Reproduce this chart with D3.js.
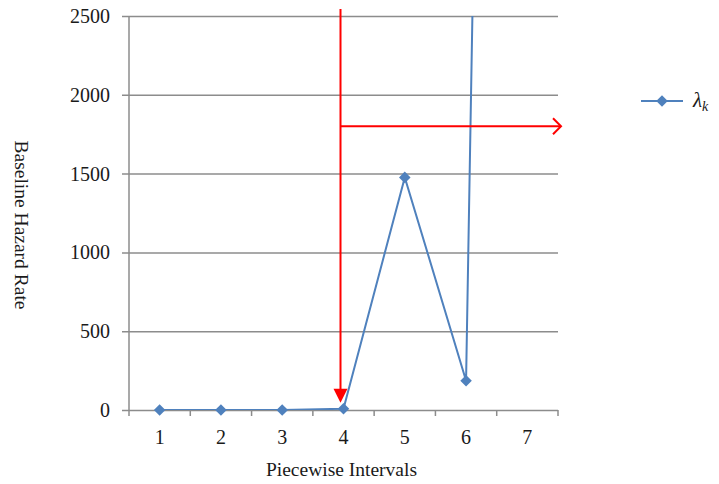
<!DOCTYPE html>
<html>
<head>
<meta charset="utf-8">
<script src="https://cdn.jsdelivr.net/npm/d3@7"></script>
<style>
  body { margin: 0; background: #fff; }
  svg { display: block; }
</style>
</head>
<body>
<svg id="chart" width="719" height="484"></svg>
<script>
// Piecewise intervals and estimated baseline hazard per interval
const intervals = [1, 2, 3, 4, 5, 6, 7];
const hazard = [0, 0, 0, 8, 1476, 186, 22600];
const yTicks = [0, 500, 1000, 1500, 2000, 2500];
const seriesName = "λ";
const seriesSub = "k";

const FONT = "'Liberation Serif', 'Times New Roman', serif";
const svg = d3.select("#chart");
const margin = { left: 129, right: 161, top: 16, bottom: 74 };
const W = 719, H = 484;
const plotW = W - margin.left - margin.right;
const plotH = H - margin.top - margin.bottom;

const x = d3.scaleBand().domain(intervals).range([0, plotW]).padding(0);
const y = d3.scaleLinear().domain([0, 2500]).range([plotH, 0]);

const g = svg.append("g").attr("transform", `translate(${margin.left},${margin.top})`);

const gridColor = "#8c8c8c";
const textColor = "#1a1a1a";

// horizontal gridlines with left tick marks
const yAxis = d3.axisLeft(y).tickValues(yTicks).tickSize(-plotW).tickSizeOuter(0).tickPadding(19)
  .tickFormat(d3.format("d"));
const yg = g.append("g").call(yAxis).attr("font-family", FONT).attr("font-size", 20);
yg.select(".domain").remove();
yg.selectAll(".tick line").attr("stroke", gridColor).attr("stroke-width", 1.5).attr("x1", -7);
yg.selectAll(".tick text").attr("fill", textColor);

// vertical axis line
g.append("line").attr("x1", 0).attr("x2", 0).attr("y1", 0).attr("y2", plotH + 6)
  .attr("stroke", gridColor).attr("stroke-width", 1.5);

// x axis: labels at band centers, ticks at band edges
const xg = g.append("g").attr("transform", `translate(0,${plotH})`)
  .call(d3.axisBottom(x).tickSize(0).tickPadding(20))
  .attr("font-family", FONT).attr("font-size", 20);
xg.select(".domain").remove();
xg.selectAll(".tick text").attr("fill", textColor);
intervals.forEach(d => {
  const xe = x(d) + x.bandwidth();
  g.append("line").attr("x1", xe).attr("x2", xe).attr("y1", plotH).attr("y2", plotH + 6)
    .attr("stroke", gridColor).attr("stroke-width", 1.5);
});

// series line, clipped to plot area
svg.append("defs").append("clipPath").attr("id", "plotClip")
  .append("rect").attr("x", 0).attr("y", 0).attr("width", plotW).attr("height", plotH);

const blue = "#4f81bd";
const pts = intervals.map((d, i) => ({ k: d, v: hazard[i] }));
const line = d3.line().x(d => x(d.k) + x.bandwidth() / 2).y(d => y(d.v));
const series = g.append("g").attr("clip-path", "url(#plotClip)");
series.append("path").datum(pts).attr("d", line)
  .attr("fill", "none").attr("stroke", blue).attr("stroke-width", 2);

const diamond = d3.symbol().type(d3.symbolDiamond2).size(85);
g.append("g").selectAll("path").data(pts.filter(d => d.v <= 2500)).join("path")
  .attr("d", diamond)
  .attr("transform", d => `translate(${x(d.k) + x.bandwidth() / 2},${y(d.v)})`)
  .attr("fill", blue);

// red annotation arrows
const red = "#ff0000";
const ax = x(4) + x.bandwidth() / 2 - 3;
const arrowTop = y(2500) - 7;
const arrowTip = y(hazard[3]) - 6;
g.append("line").attr("x1", ax).attr("x2", ax).attr("y1", arrowTop).attr("y2", arrowTip - 12)
  .attr("stroke", red).attr("stroke-width", 2);
g.append("path")
  .attr("d", `M${ax - 7},${arrowTip - 14} L${ax + 7},${arrowTip - 14} L${ax},${arrowTip} Z`)
  .attr("fill", red);

const hy = y(1800);
const hx2 = plotW + 3;
g.append("line").attr("x1", ax).attr("x2", hx2).attr("y1", hy).attr("y2", hy)
  .attr("stroke", red).attr("stroke-width", 2);
g.append("path")
  .attr("d", `M${hx2 - 8},${hy - 8} L${hx2},${hy} L${hx2 - 8},${hy + 8}`)
  .attr("fill", "none").attr("stroke", red).attr("stroke-width", 2);

// axis titles
svg.append("text").attr("x", margin.left + plotW / 2 - 2).attr("y", 476)
  .attr("text-anchor", "middle").attr("font-family", FONT).attr("font-size", 19.5)
  .attr("fill", textColor).text("Piecewise Intervals");
svg.append("text").attr("transform", "translate(15,225) rotate(90)")
  .attr("text-anchor", "middle").attr("font-family", FONT).attr("font-size", 19.5)
  .attr("fill", textColor).text("Baseline Hazard Rate");

// legend
const lg = svg.append("g").attr("transform", "translate(641,101)");
lg.append("line").attr("x1", 0).attr("x2", 42).attr("y1", 0).attr("y2", 0)
  .attr("stroke", blue).attr("stroke-width", 2);
lg.append("path").attr("d", diamond).attr("transform", "translate(21,0)").attr("fill", blue);
const lt = lg.append("text").attr("x", 52).attr("y", 6).attr("font-size", 21)
  .attr("font-family", FONT).attr("font-style", "italic").attr("fill", textColor);
lt.append("tspan").text(seriesName);
lt.append("tspan").attr("font-size", 14).attr("dy", 4).text(seriesSub);
</script>
</body>
</html>
